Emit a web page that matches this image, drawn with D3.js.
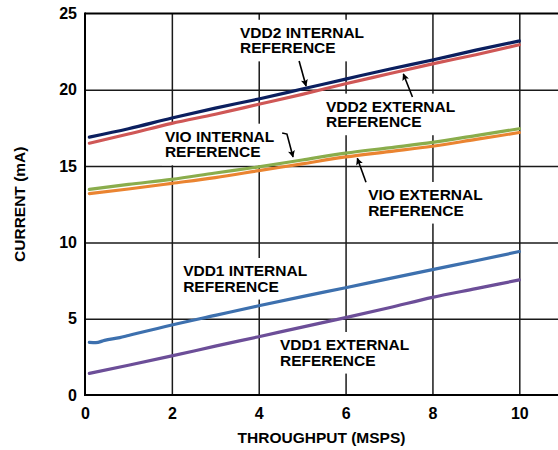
<!DOCTYPE html>
<html>
<head>
<meta charset="utf-8">
<script src="https://cdn.jsdelivr.net/npm/d3@7"></script>
<style>
  body { margin: 0; background: #fff; }
  text { font-family: "Liberation Sans", Arial, sans-serif; font-weight: bold; }
</style>
</head>
<body>
<script>
"use strict";
// x values (MSPS) shared by most curves
const throughput = [0.1, 1, 2, 3, 4, 5, 6, 7, 8, 9, 10]
const vdd2Internal = [16.9, 17.45, 18.15, 18.8, 19.4, 20.05, 20.7, 21.35, 21.95, 22.6, 23.2]
const vdd2External = [16.5, 17.1, 17.8, 18.4, 19.05, 19.7, 20.4, 21.05, 21.7, 22.3, 22.95]
const vioInternal = [13.47, 13.8, 14.13, 14.55, 14.95, 15.4, 15.85, 16.2, 16.55, 17.0, 17.45]
const vioExternal = [13.2, 13.5, 13.87, 14.25, 14.7, 15.15, 15.6, 15.95, 16.3, 16.75, 17.2]
const vdd1External = [1.42, 1.95, 2.56, 3.2, 3.82, 4.45, 5.07, 5.72, 6.4, 6.97, 7.54]
// VDD1 internal has a little wiggle at the start
const vdd1InternalX = [0.1, 0.25, 0.45, 0.8, 1, 2, 3, 4, 5, 6, 7, 8, 9, 10]
const vdd1Internal = [3.45, 3.43, 3.58, 3.76, 3.9, 4.59, 5.22, 5.85, 6.45, 7.03, 7.63, 8.22, 8.8, 9.4]

const xTicks = [0, 2, 4, 6, 8, 10]
const yTicks = [0, 5, 10, 15, 20, 25]

// label text and where it sits (data units: left edge, first baseline)
const labelText = [
    ["VDD2 INTERNAL", "REFERENCE"],
    ["VDD2 EXTERNAL", "REFERENCE"],
    ["VIO INTERNAL", "REFERENCE"],
    ["VIO EXTERNAL", "REFERENCE"],
    ["VDD1 INTERNAL", "REFERENCE"],
    ["VDD1 EXTERNAL", "REFERENCE"]
]
const labelAt = [[3.57, 23.41], [5.55, 18.57], [1.84, 16.6], [6.52, 12.78], [2.26, 7.8], [4.49, 2.95]]
// arrows: list of points, last one is the tip
const arrowPaths = [
    [[4.93, 21.89], [5.09, 20.25]],
    [[7.54, 19.53], [7.33, 21.04]],
    [[4.54, 17.17], [4.65, 17.1], [4.79, 15.6]],
    [[6.47, 13.94], [6.27, 15.51]]
]

const measurements = {
    width: 558,
    height: 450,
    left: 85,
    top: 13.5,
    bottom: 395,
    right: 558
}

const svgContainer = d3.select('body').append('svg')
    .attr('width', measurements.width)
    .attr('height', measurements.height)

const scaleX = d3.scaleLinear()
    .domain([0, 11])
    .range([measurements.left, measurements.left + 11 * 43.43])
const scaleY = d3.scaleLinear()
    .domain([0, 25])
    .range([measurements.bottom, measurements.top])

const fontSize = 15.5

drawGrid()
// white boxes go over the grid but under the curves
const boxGroup = svgContainer.append('g')
plotData()
drawFrame()
drawArrows()
drawLabels()

function drawGrid() {
    const gridW = measurements.right - measurements.left
    const gridH = measurements.bottom - measurements.top

    let yAxis = d3.axisLeft(scaleY).tickValues(yTicks).tickSize(-gridW).tickPadding(8)
    let xAxis = d3.axisBottom(scaleX).tickValues(xTicks).tickSize(-gridH).tickPadding(13)

    const gy = svgContainer.append('g')
        .attr('transform', `translate(${measurements.left},0)`)
        .call(yAxis)
    const gx = svgContainer.append('g')
        .attr('transform', `translate(0,${measurements.bottom})`)
        .call(xAxis)

    for (const g of [gx, gy]) {
        g.select('.domain').remove()
        g.selectAll('line').attr('stroke', '#1a1a1a').attr('stroke-width', 1.5)
        g.selectAll('text')
            .attr('fill', '#000')
            .style('font-size', '16px')
            .style('font-family', '"Liberation Sans", Arial, sans-serif')
            .style('font-weight', 'bold')
    }
    gy.selectAll('.tick').filter(d => d === 0 || d === 25).select('line').remove()
    gx.selectAll('.tick').filter(d => d === 0).select('line').remove()

    // axis titles
    svgContainer.append('text')
        .attr('x', (measurements.left + measurements.right) / 2)
        .attr('y', 443)
        .attr('text-anchor', 'middle')
        .style('font-size', fontSize + 'px')
        .text('THROUGHPUT (MSPS)')

    svgContainer.append('text')
        .attr('transform', `translate(25,${(measurements.top + measurements.bottom) / 2}) rotate(-90)`)
        .attr('text-anchor', 'middle')
        .style('font-size', fontSize + 'px')
        .text('CURRENT (mA)')
}

function drawLabels() {
    const g = svgContainer.append('g')
    labelText.forEach((lines, i) => {
        const t = g.append('text')
            .attr('x', scaleX(labelAt[i][0]))
            .attr('y', scaleY(labelAt[i][1]))
            .style('font-size', fontSize + 'px')
        t.selectAll('tspan')
            .data(lines)
            .enter()
            .append('tspan')
            .attr('x', scaleX(labelAt[i][0]))
            .attr('dy', (d, j) => j === 0 ? 0 : 15.6)
            .text(d => d)
        const bb = t.node().getBBox()
        boxGroup.append('rect')
            .attr('x', bb.x - 3)
            .attr('y', bb.y - 4)
            .attr('width', bb.width + 6)
            .attr('height', bb.height + 9)
            .attr('fill', '#fff')
    })
}

function plotData() {
    const line = d3.line()
        .x(d => scaleX(d[0]))
        .y(d => scaleY(d[1]))
        .curve(d3.curveMonotoneX)

    const series = [
        { xs: vdd2Internal.map((v, i) => [throughput[i], v]), color: '#0b1f5f' },
        { xs: vdd2External.map((v, i) => [throughput[i], v]), color: '#cf5756' },
        { xs: vioInternal.map((v, i) => [throughput[i], v]), color: '#8aad4c' },
        { xs: vioExternal.map((v, i) => [throughput[i], v]), color: '#ea8431' },
        { xs: vdd1Internal.map((v, i) => [vdd1InternalX[i], v]), color: '#3d70ae' },
        { xs: vdd1External.map((v, i) => [throughput[i], v]), color: '#6c4e98' }
    ]
    // draw bottom series first so the upper ones sit on top
    svgContainer.append('g')
        .selectAll('path')
        .data(series.slice().reverse())
        .enter()
        .append('path')
        .attr('d', d => line(d.xs))
        .attr('fill', 'none')
        .attr('stroke', d => d.color)
        .attr('stroke-width', 3.2)
        .attr('stroke-linecap', 'round')
}

function drawFrame() {
    const g = svgContainer.append('g')
        .attr('stroke', '#000')
        .attr('stroke-width', 2)
    g.append('line')
        .attr('x1', measurements.left).attr('x2', measurements.right)
        .attr('y1', measurements.top).attr('y2', measurements.top)
    g.append('line')
        .attr('x1', measurements.left).attr('x2', measurements.right)
        .attr('y1', measurements.bottom).attr('y2', measurements.bottom)
    g.append('line')
        .attr('x1', measurements.left).attr('x2', measurements.left)
        .attr('y1', measurements.top - 1).attr('y2', measurements.bottom + 1)
}

function drawArrows() {
    svgContainer.append('defs').append('marker')
        .attr('id', 'head')
        .attr('viewBox', '0 0 10 10')
        .attr('refX', 9)
        .attr('refY', 5)
        .attr('markerWidth', 10)
        .attr('markerHeight', 7)
        .attr('markerUnits', 'userSpaceOnUse')
        .attr('orient', 'auto')
        .append('path')
        .attr('d', 'M0,0 L10,5 L0,10 L2,5 Z')
        .attr('fill', '#000')

    const line = d3.line()
        .x(d => scaleX(d[0]))
        .y(d => scaleY(d[1]))

    svgContainer.append('g')
        .selectAll('path')
        .data(arrowPaths)
        .enter()
        .append('path')
        .attr('d', d => line(d))
        .attr('fill', 'none')
        .attr('stroke', '#000')
        .attr('stroke-width', 1.6)
        .attr('marker-end', 'url(#head)')
}
</script>
</body>
</html>
